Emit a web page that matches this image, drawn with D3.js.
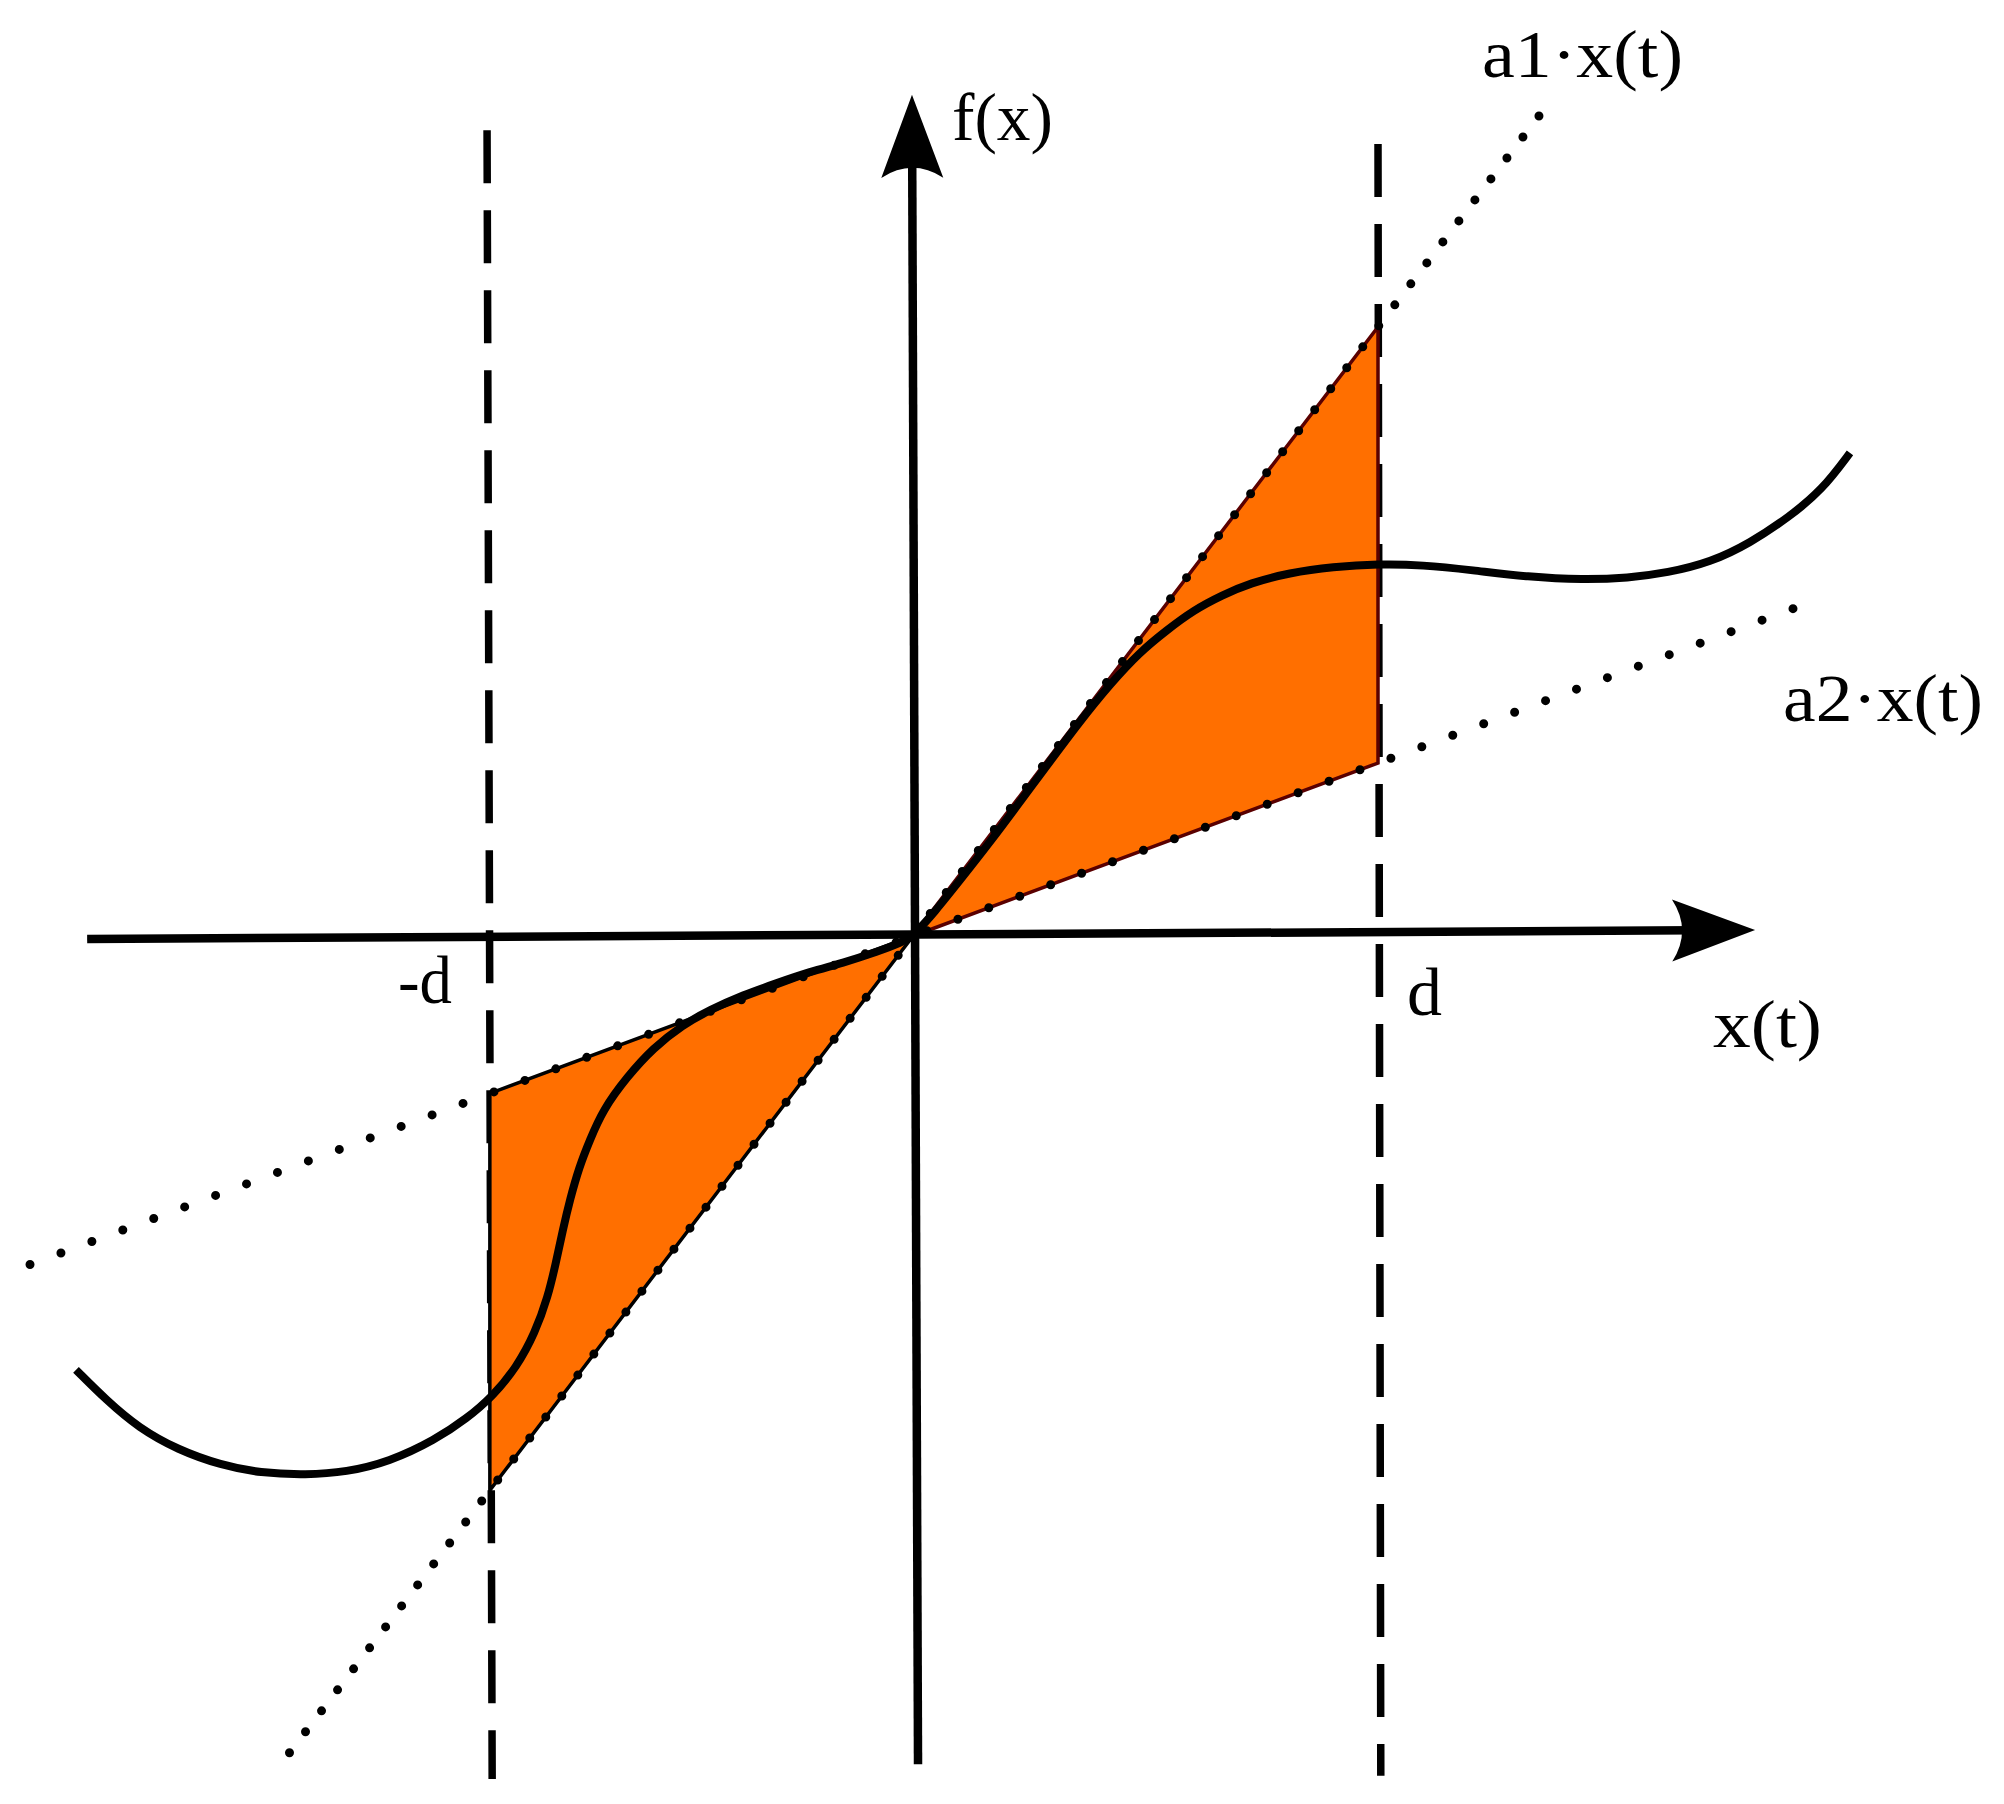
<!DOCTYPE html>
<html>
<head>
<meta charset="utf-8">
<script src="https://cdn.jsdelivr.net/npm/d3@7"></script>
<style>
  html, body { margin: 0; padding: 0; background: #ffffff; }
  svg { display: block; }
  text { font-family: "Liberation Serif", "DejaVu Serif", serif; fill: #000; }
</style>
</head>
<body>
<svg id="chart" width="2004" height="1804"></svg>
<script>
// ---------- data (x in units of d, f(x) in the same units) ----------
const slopeNames = ["a1·x(t)", "a2·x(t)"];
const slopeValues = [1.31, 0.372];
const slopeXStart = [-1.344, -1.914];
const slopeXEnd = [1.361, 1.912];

const boundNames = ["-d", "d"];
const boundValues = [-0.91, 1.0];

const curveX = [-1.800, -1.735, -1.665, -1.581, -1.488, -1.404, -1.305, -1.219, -1.127, -1.028,
  -0.959, -0.905, -0.852, -0.813, -0.785, -0.768, -0.753, -0.738, -0.718, -0.695,
  -0.667, -0.615, -0.559, -0.495, -0.437, -0.366, -0.292, -0.222, -0.151, -0.077,
  -0.022, 0.000, 0.047, 0.101, 0.166, 0.252, 0.361, 0.426, 0.486, 0.546,
  0.604, 0.665, 0.725, 0.809, 0.903, 1.002, 1.095, 1.202, 1.323, 1.441,
  1.538, 1.622, 1.716, 1.800, 1.884, 1.955, 2.015];
const curveY = [-0.933, -0.998, -1.058, -1.105, -1.138, -1.155, -1.159, -1.153, -1.131, -1.084,
  -1.037, -0.991, -0.927, -0.854, -0.776, -0.703, -0.632, -0.568, -0.497, -0.439,
  -0.374, -0.303, -0.241, -0.191, -0.159, -0.127, -0.101, -0.077, -0.058, -0.034,
  -0.013, 0.000, 0.052, 0.120, 0.202, 0.318, 0.465, 0.544, 0.609, 0.658,
  0.701, 0.733, 0.759, 0.781, 0.794, 0.800, 0.798, 0.787, 0.772, 0.766,
  0.770, 0.781, 0.804, 0.845, 0.901, 0.959, 1.039];

const axisNames = ["x(t)", "f(x)"];

// ---------- scales ----------
const x = d3.scaleLinear().domain([0, 1]).range([913, 1378]);
const y = d3.scaleLinear().domain([0, 1]).range([936, 471]);

const svg = d3.select("#chart");
svg.append("rect").attr("width", 2004).attr("height", 1804).attr("fill", "#fff");

// ---------- dashed bounds ----------
const boundTop = [1.733, 1.703];
const boundBottom = [-1.813, -1.806];
const boundBottomX = [-0.905, 1.006];
const boundTopX = [-0.916, 1.0];
svg.append("g").selectAll("line").data(boundValues).join("line")
  .attr("x1", (d, i) => x(boundTopX[i])).attr("y1", (d, i) => y(boundTop[i]))
  .attr("x2", (d, i) => x(boundBottomX[i])).attr("y2", (d, i) => y(boundBottom[i]))
  .attr("stroke", "#000").attr("stroke-width", 7.5)
  .attr("stroke-dasharray", "53,27");

// ---------- orange sectors ----------
const line = d3.line().x(d => x(d[0])).y(d => y(d[1]));
const sectors = boundValues.map(b => [[0, 0], [b, b * slopeValues[1]], [b, b * slopeValues[0]]]);
const sectorStroke = ["#000000", "#5a0000"];
svg.append("g").selectAll("path").data(sectors).join("path")
  .attr("d", d => line(d) + "Z")
  .attr("fill", "#ff6f00")
  .attr("stroke", (d, i) => sectorStroke[i])
  .attr("stroke-width", 3.5)
  .attr("stroke-linejoin", "miter");

// ---------- dotted slope lines ----------
const dotSpacing = [26.4, 33];
const dotOffset = [24, 25.5];
svg.append("g").selectAll("path").data(slopeValues).join("path")
  .attr("d", (a, i) => line([[slopeXStart[i], a * slopeXStart[i]], [slopeXEnd[i], a * slopeXEnd[i]]]))
  .attr("fill", "none").attr("stroke", "#000").attr("stroke-width", 9)
  .attr("stroke-linecap", "round")
  .attr("stroke-dasharray", (a, i) => `0,${dotSpacing[i]}`)
  .attr("stroke-dashoffset", (a, i) => dotOffset[i]);

// ---------- curve ----------
const curvePts = curveX.map((v, i) => [v, curveY[i]]);
svg.append("path")
  .attr("d", d3.line().x(d => x(d[0])).y(d => y(d[1])).curve(d3.curveBasis)(curvePts))
  .attr("fill", "none").attr("stroke", "#000").attr("stroke-width", 8)
  .attr("stroke-linecap", "butt").attr("stroke-linejoin", "round");

// ---------- axes with arrowheads ----------
const axisStart = [[-1.776, -0.0065], [0.0108, -1.781]];
const axisTip = [[1.811, 0.0129], [-0.0022, 1.809]];
const ag = svg.append("g");
axisStart.forEach((s, i) => {
  const t = axisTip[i];
  const x1 = x(s[0]), y1 = y(s[1]), x2 = x(t[0]), y2 = y(t[1]);
  const ang = Math.atan2(y2 - y1, x2 - x1) * 180 / Math.PI;
  ag.append("line")
    .attr("x1", x1).attr("y1", y1)
    .attr("x2", x2 - 60 * Math.cos(ang * Math.PI / 180)).attr("y2", y2 - 60 * Math.sin(ang * Math.PI / 180))
    .attr("stroke", "#000").attr("stroke-width", 8.5);
  ag.append("path")
    .attr("d", "M0,0 L-83,-31 Q-63,0 -83,31 Z")
    .attr("transform", `translate(${x2},${y2}) rotate(${ang})`)
    .attr("fill", "#000");
});

// ---------- labels ----------
const fs = 68;
const labels = [
  { t: axisNames[1], x: 952, y: 140, w: 101 },
  { t: axisNames[0], x: 1713, y: 1047, w: 109 },
  { t: slopeNames[0], x: 1482, y: 77, w: 201 },
  { t: slopeNames[1], x: 1783, y: 721, w: 200 },
  { t: boundNames[0], x: 398, y: 1003, w: 54 },
  { t: boundNames[1], x: 1407, y: 1015, w: 35 }
];
svg.append("g").selectAll("text").data(labels).join("text")
  .attr("x", d => d.x).attr("y", d => d.y)
  .attr("font-size", fs)
  .attr("textLength", d => d.w)
  .attr("lengthAdjust", "spacingAndGlyphs")
  .text(d => d.t);
</script>
</body>
</html>
